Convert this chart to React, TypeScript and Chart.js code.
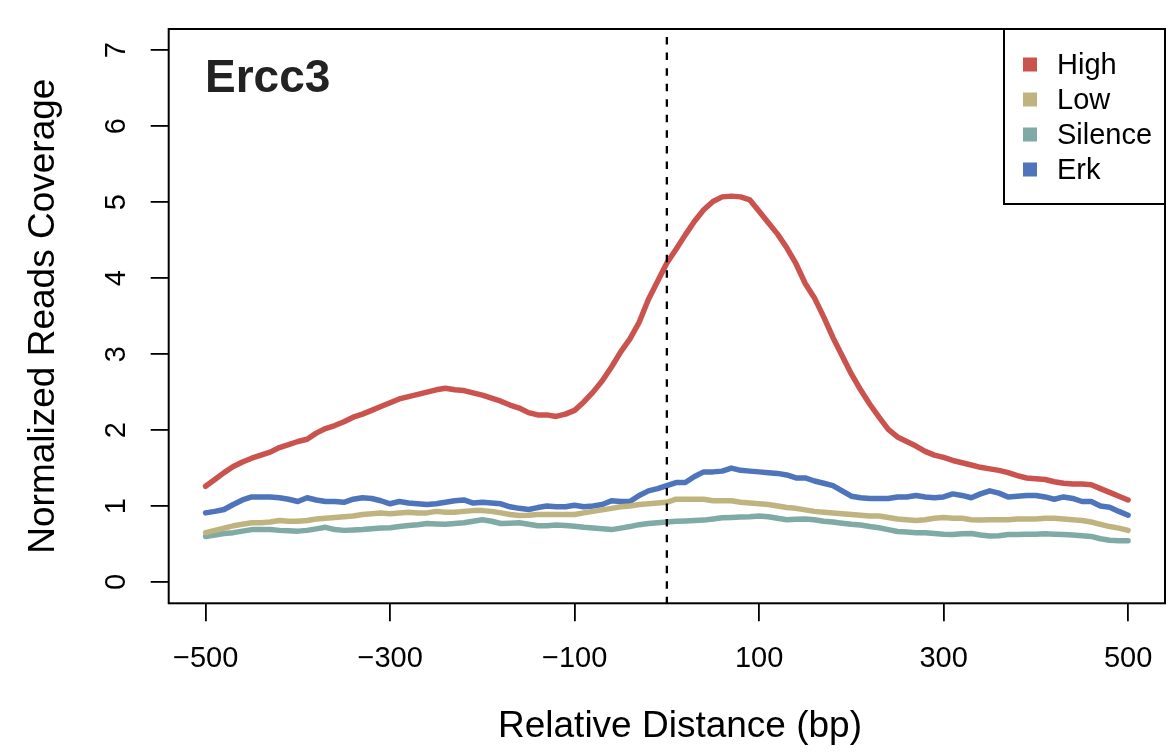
import React, { useEffect, useRef } from "react";
import { Chart, registerables } from "chart.js";

Chart.register(...registerables);

const positions = [
  -500, -490, -480, -470, -460, -450, -440, -430, -420, -410,
  -400, -390, -380, -370, -360, -350, -340, -330, -320, -310,
  -300, -290, -280, -270, -260, -250, -240, -230, -220, -210,
  -200, -190, -180, -170, -160, -150, -140, -130, -120, -110,
  -100, -90, -80, -70, -60, -50, -40, -30, -20, -10,
  0, 10, 20, 30, 40, 50, 60, 70, 80, 90,
  100, 110, 120, 130, 140, 150, 160, 170, 180, 190,
  200, 210, 220, 230, 240, 250, 260, 270, 280, 290,
  300, 310, 320, 330, 340, 350, 360, 370, 380, 390,
  400, 410, 420, 430, 440, 450, 460, 470, 480, 490,
  500,
];

const highValues = [
  1.26, 1.35, 1.44, 1.52, 1.58, 1.63, 1.67, 1.71, 1.77, 1.81,
  1.85, 1.88, 1.96, 2.02, 2.06, 2.11, 2.17, 2.21, 2.26, 2.31,
  2.36, 2.41, 2.44, 2.47, 2.5, 2.53, 2.55, 2.53, 2.52, 2.49,
  2.46, 2.42, 2.38, 2.33, 2.29, 2.23, 2.2, 2.2, 2.18, 2.21,
  2.26, 2.37, 2.5, 2.65, 2.83, 3.03, 3.2, 3.42, 3.72, 3.96,
  4.2, 4.38, 4.57, 4.75, 4.9, 5.01, 5.07, 5.08, 5.07, 5.03,
  4.88, 4.73, 4.58, 4.4, 4.19, 3.93, 3.74, 3.49, 3.22, 2.98,
  2.74, 2.53, 2.34, 2.17, 2.01, 1.91, 1.85, 1.79, 1.72, 1.67,
  1.64, 1.6, 1.57, 1.54, 1.51, 1.49, 1.47, 1.44, 1.4, 1.37,
  1.36, 1.35, 1.32, 1.3, 1.29, 1.29, 1.28, 1.23, 1.18, 1.13,
  1.08,
];

const lowValues = [
  0.65, 0.68, 0.71, 0.74, 0.76, 0.78, 0.78, 0.79, 0.81, 0.8,
  0.8, 0.81, 0.83, 0.84, 0.85, 0.86, 0.87, 0.89, 0.9, 0.91,
  0.9, 0.91, 0.92, 0.91, 0.91, 0.93, 0.92, 0.92, 0.93, 0.94,
  0.94, 0.93, 0.91, 0.89, 0.875, 0.88, 0.89, 0.89, 0.89, 0.89,
  0.89, 0.91, 0.93, 0.95, 0.97, 0.99, 1.0, 1.02, 1.03, 1.04,
  1.05, 1.09, 1.09, 1.09, 1.09, 1.07, 1.07, 1.07, 1.05, 1.04,
  1.03, 1.02, 1.0, 0.98, 0.97, 0.95, 0.93, 0.92, 0.91, 0.9,
  0.89, 0.88, 0.87, 0.87, 0.85, 0.83, 0.82, 0.81, 0.82, 0.84,
  0.85, 0.84, 0.84, 0.82, 0.815, 0.82, 0.82, 0.82, 0.83, 0.83,
  0.83, 0.84, 0.84, 0.83, 0.82, 0.81, 0.79, 0.76, 0.73, 0.71,
  0.68,
];

const silenceValues = [
  0.6, 0.62, 0.64, 0.65, 0.67, 0.69, 0.69, 0.69, 0.68, 0.675,
  0.67, 0.68, 0.7, 0.72, 0.69, 0.68, 0.685, 0.69, 0.7, 0.71,
  0.715, 0.73, 0.745, 0.755, 0.77, 0.765, 0.76, 0.77, 0.78, 0.8,
  0.82, 0.8, 0.77, 0.775, 0.78, 0.76, 0.74, 0.74, 0.75, 0.745,
  0.735, 0.72, 0.71, 0.7, 0.69, 0.71, 0.73, 0.755, 0.77, 0.78,
  0.79, 0.8, 0.805, 0.81, 0.815, 0.83, 0.845, 0.85, 0.855, 0.86,
  0.87, 0.86, 0.84, 0.82, 0.825, 0.83, 0.82, 0.8, 0.79, 0.775,
  0.76, 0.75, 0.73, 0.715, 0.69, 0.665, 0.66, 0.65, 0.65, 0.64,
  0.63, 0.625, 0.635, 0.64, 0.62, 0.605, 0.61, 0.625, 0.625, 0.63,
  0.63, 0.635, 0.63, 0.625, 0.62, 0.61, 0.6, 0.57, 0.55, 0.545,
  0.545,
];

const erkValues = [
  0.91, 0.93, 0.955, 1.02, 1.08, 1.12, 1.12, 1.12, 1.11, 1.09,
  1.06, 1.11, 1.08, 1.06, 1.06, 1.05, 1.09, 1.11, 1.1, 1.07,
  1.03, 1.06, 1.04, 1.03, 1.02, 1.03, 1.05, 1.07, 1.08, 1.04,
  1.05, 1.04, 1.03, 0.99, 0.97, 0.955, 0.98, 1.0, 0.99, 0.99,
  1.01, 0.99, 1.0, 1.02, 1.07, 1.06, 1.06, 1.14, 1.2, 1.23,
  1.27, 1.31, 1.31, 1.39, 1.45, 1.45, 1.46, 1.5, 1.47, 1.46,
  1.45, 1.44, 1.43, 1.41, 1.37, 1.37, 1.33, 1.3, 1.27, 1.2,
  1.13, 1.11, 1.1, 1.1, 1.1, 1.12, 1.12, 1.14, 1.12, 1.11,
  1.12, 1.16, 1.14, 1.11, 1.16, 1.2, 1.17, 1.12, 1.13, 1.14,
  1.14, 1.12, 1.09, 1.12, 1.1, 1.06, 1.06, 1.0, 0.985, 0.93,
  0.88,
];

const seriesNames = ["High", "Low", "Silence", "Erk"];
const seriesColors = ["#CA534E", "#BFB47F", "#7FAAA6", "#4E74BC"];

const xTickValues = [-500, -300, -100, 100, 300, 500];
const xTickLabels = ["\u2212500", "\u2212300", "\u2212100", "100", "300", "500"];
const yTickValues = [0, 1, 2, 3, 4, 5, 6, 7];
const yTickLabels = ["0", "1", "2", "3", "4", "5", "6", "7"];

const chartTitle = "Ercc3";
const xTitle = "Relative Distance (bp)";
const yTitle = "Normalized Reads Coverage";
const markerX = 0;

const FONT = "'Liberation Sans', Arial, Helvetica, sans-serif";

const decorPlugin = {
  id: "decor",
  afterDatasetsDraw(chart: any) {
    const { ctx, chartArea } = chart;
    const xs = chart.scales.x;
    ctx.save();
    // dashed vertical marker
    const px = xs.getPixelForValue(markerX);
    ctx.strokeStyle = "#000";
    ctx.lineWidth = 2.3;
    ctx.setLineDash([7.5, 8.05]);
    ctx.lineDashOffset = 7.5;
    ctx.beginPath();
    ctx.moveTo(px, chartArea.top);
    ctx.lineTo(px, chartArea.bottom);
    ctx.stroke();
    ctx.setLineDash([]);

    // plot box
    ctx.lineWidth = 2;
    ctx.strokeRect(chartArea.left, chartArea.top, chartArea.right - chartArea.left, chartArea.bottom - chartArea.top);

    // title
    ctx.fillStyle = "#222";
    ctx.font = `bold 46px ${FONT}`;
    ctx.textAlign = "left";
    ctx.textBaseline = "alphabetic";
    ctx.fillText(chartTitle, 205, 92);

    // x axis title
    ctx.fillStyle = "#000";
    ctx.font = `37px ${FONT}`;
    ctx.textAlign = "center";
    ctx.textBaseline = "middle";
    ctx.fillText(xTitle, 680, 727);

    // legend
    const lx = 1004;
    const ly = chartArea.top;
    const lw = chartArea.right - lx;
    const lh = 175;
    ctx.lineWidth = 2;
    ctx.strokeStyle = "#000";
    ctx.strokeRect(lx, ly, lw, lh);
    ctx.font = `29px ${FONT}`;
    ctx.textAlign = "left";
    ctx.textBaseline = "middle";
    chart.data.datasets.forEach((ds: any, i: number) => {
      const cy = 64.5 + i * 35;
      ctx.fillStyle = ds.borderColor;
      ctx.fillRect(1023, cy - 7, 14, 14);
      ctx.fillStyle = "#000";
      ctx.fillText(ds.label, 1057, cy + 1);
    });
    ctx.restore();
  },
};

export default function App() {
  const ref = useRef<HTMLCanvasElement | null>(null);

  useEffect(() => {
    if (!ref.current) return;
    const valueSets = [highValues, lowValues, silenceValues, erkValues];
    const datasets = valueSets.map((vals, i) => ({
      label: seriesNames[i],
      data: positions.map((p, j) => ({ x: p, y: vals[j] })),
      borderColor: seriesColors[i],
      backgroundColor: seriesColors[i],
      borderWidth: 5.5,
      pointRadius: 0,
      tension: 0,
      borderCapStyle: "round",
      borderJoinStyle: "round",
      fill: false,
    }));

    const chart = new Chart(ref.current, {
      type: "line",
      data: { datasets: datasets as any },
      options: {
        animation: false,
        responsive: false,
        devicePixelRatio: 1,
        events: [],
        layout: { padding: { top: 29, right: 6, left: 0, bottom: 0 } },
        plugins: { legend: { display: false }, tooltip: { enabled: false }, title: { display: false } },
        scales: {
          x: {
            type: "linear",
            min: -540,
            max: 540,
            afterBuildTicks: (s: any) => {
              s.ticks = xTickValues.map((v) => ({ value: v }));
            },
            afterFit: (s: any) => {
              s.height = 149.7;
              s.paddingLeft = 0;
              s.paddingRight = 0;
              s.paddingTop = 0;
              s.paddingBottom = 0;
            },
            grid: { display: true, drawOnChartArea: false, drawTicks: true, tickLength: 18, color: "#000", lineWidth: 1.8 },
            border: { display: false },
            ticks: {
              autoSkip: false,
              maxRotation: 0,
              minRotation: 0,
              padding: 20,
              color: "#000",
              font: { family: FONT, size: 29 },
              callback: (v: any) => {
                const k = xTickValues.indexOf(Number(v));
                return k >= 0 ? xTickLabels[k] : "";
              },
            },
            title: { display: false, text: xTitle },
          },
          y: {
            type: "linear",
            min: -0.28,
            max: 7.28,
            afterBuildTicks: (s: any) => {
              s.ticks = yTickValues.map((v) => ({ value: v }));
            },
            afterFit: (s: any) => {
              s.width = 168.7;
              s.paddingLeft = 0;
              s.paddingRight = 0;
              s.paddingTop = 0;
              s.paddingBottom = 0;
            },
            grid: { display: true, drawOnChartArea: false, drawTicks: true, tickLength: 18, color: "#000", lineWidth: 1.8 },
            border: { display: false },
            ticks: {
              autoSkip: false,
              minRotation: 90,
              maxRotation: 90,
              crossAlign: "center",
              padding: 26,
              color: "#000",
              font: { family: FONT, size: 29 },
              callback: (v: any) => {
                const k = yTickValues.indexOf(Number(v));
                return k >= 0 ? yTickLabels[k] : "";
              },
            },
            title: {
              display: true,
              text: yTitle,
              color: "#000",
              font: { family: FONT, size: 37 },
              padding: { top: 21.8, bottom: 0 },
            },
          },
        },
      },
      plugins: [decorPlugin],
    });
    return () => chart.destroy();
  }, []);

  return (
    <div style={{ position: "fixed", left: 0, top: 0, width: 1171, height: 753, background: "#fff" }}>
      <canvas ref={ref} width={1171} height={753} style={{ display: "block", width: 1171, height: 753 }} />
    </div>
  );
}
